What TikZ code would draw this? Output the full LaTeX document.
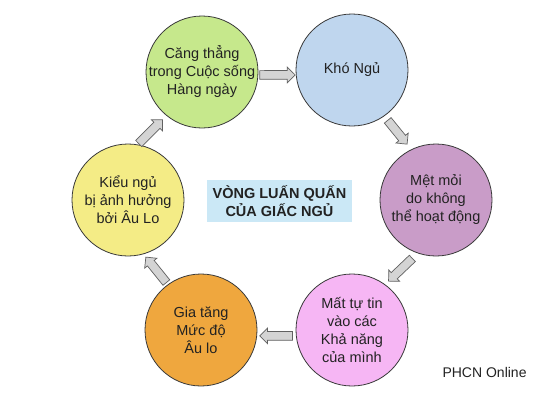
\documentclass[tikz,border=0pt]{standalone}
\usepackage{fontspec}
\setmainfont{Liberation Sans}
\usetikzlibrary{shapes.arrows,calc}
\definecolor{cgreen}{HTML}{C6E88C}
\definecolor{cblue}{HTML}{BFD6EE}
\definecolor{cpurple}{HTML}{C99CC8}
\definecolor{cpink}{HTML}{F6B6F4}
\definecolor{corange}{HTML}{EFA73E}
\definecolor{cyellow}{HTML}{F4EC86}
\definecolor{ctitle}{HTML}{CBE8F6}
\definecolor{cedge}{HTML}{3A3A3A}
\definecolor{carrow}{HTML}{D4D4D4}
\definecolor{ctext}{HTML}{222222}
\tikzset{
  bubble/.style={circle, draw=cedge, line width=0.8pt, minimum size=112pt, inner sep=0pt},
  bubbletext/.style={align=center, text=ctext, inner sep=0pt, font=\fontsize{14.5}{18}\selectfont},
  blockarr/.style={single arrow, draw=cedge!80, fill=carrow, line width=0.7pt,
    inner sep=4pt, single arrow head extend=3.5pt, single arrow head indent=0pt},
}
\newcommand{\blockarrow}[4]{%
  \path let \p1=(#1), \p2=(#2), \n1={atan2(\y2-\y1,\x2-\x1)},
    \n2={veclen(\x2-\x1,\y2-\y1)} in
    node[blockarr, minimum height=\n2-#3-#4, rotate=\n1, anchor=tail]
      at ($(#1)!#3pt!(#2)$) {};}
\begin{document}
\begin{tikzpicture}[x=1pt,y=-1pt]
\useasboundingbox[fill=white] (0,0) rectangle (544,400);
\node[bubble, fill=cgreen]  (g) at (202,72)  {};
\node[bubble, fill=cblue]   (b) at (352,70)  {};
\node[bubble, fill=cpurple] (p) at (436,200) {};
\node[bubble, fill=cpink]   (k) at (352,330) {};
\node[bubble, fill=corange] (o) at (201,330) {};
\node[bubble, fill=cyellow] (y) at (128,200) {};
\node[bubbletext] (gt) at (g.center) {Căng thẳng\\trong Cuộc sống\\Hàng ngày};
\node[bubbletext] (bt) at (b.center) {Khó Ngủ};
\node[bubbletext] (pt) at (p.center) {Mệt mỏi\\do không\\thể hoạt động};
\node[bubbletext] (kt) at (k.center) {Mất tự tin\\vào các\\Khả năng\\của mình};
\node[bubbletext] (ot) at (o.center) {Gia tăng\\Mức độ\\Âu lo};
\node[bubbletext] (yt) at (y.center) {Kiểu ngủ\\bị ảnh hưởng\\bởi Âu Lo};
\node[fill=ctitle, minimum width=145pt, minimum height=42pt, inner sep=0pt, align=center,
  text=ctext, font=\fontsize{14.5}{18}\selectfont\bfseries] (t) at (279.5,201) {VÒNG LUẤN QUẤN\\CỦA GIẤC NGỦ};
\node[text=ctext, font=\fontsize{14}{16}\selectfont, anchor=west] (w) at (439,372) {PHCN Online};
\blockarrow{g.-3}{b.185}{1}{1}
\blockarrow{b.-55}{p.116}{5}{7}
\blockarrow{p.251}{k.54}{7}{5}
\blockarrow{k.186}{o.-6}{3}{3}
\blockarrow{o.126}{y.-74}{2}{4}
\blockarrow{y.80}{g.231}{1}{6}
\end{tikzpicture}
\end{document}
